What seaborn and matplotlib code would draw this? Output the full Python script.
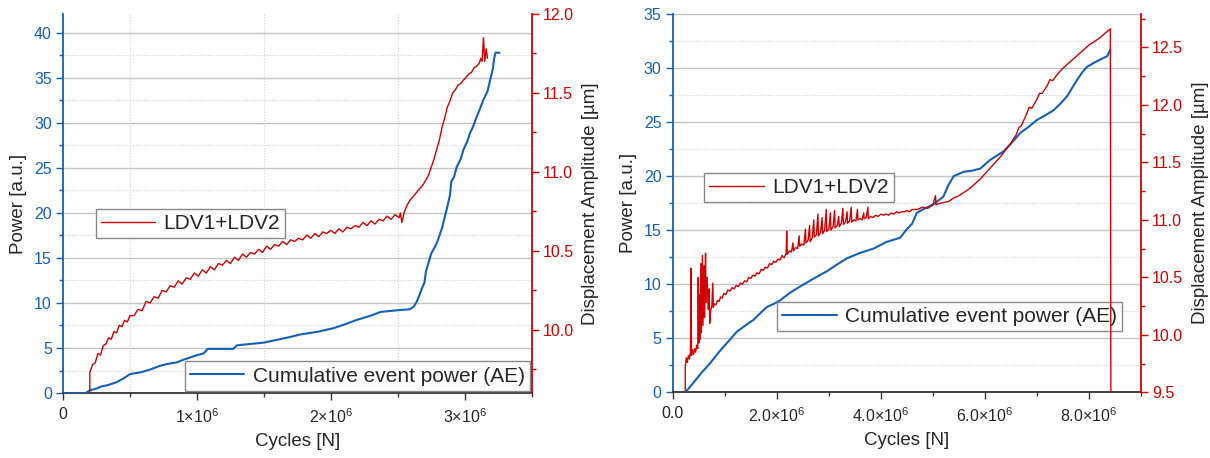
import numpy as np
import pandas as pd
import matplotlib
matplotlib.use("Agg")
import matplotlib.pyplot as plt
import seaborn as sns
from matplotlib.ticker import MultipleLocator

sns.set_theme(style="white")
plt.rcParams['font.family'] = ['Liberation Sans', 'DejaVu Sans']
plt.rcParams['mathtext.fontset'] = 'custom'
plt.rcParams['mathtext.rm'] = 'Liberation Sans'
plt.rcParams['mathtext.it'] = 'Liberation Sans'

BLUE = "#1460b8"
RED = "#d20000"

# ---- left panel (cycles in millions) ----
left_ae_cycles = [0.00, 0.17, 0.20, 0.25, 0.28, 0.34, 0.40, 0.45, 0.50, 0.58, 0.65, 0.72, 0.77, 0.85,
                  0.90, 1.00, 1.05, 1.08, 1.27, 1.30, 1.50, 1.69, 1.77, 1.90, 2.02, 2.10, 2.19, 2.30,
                  2.37, 2.50, 2.59, 2.62, 2.64, 2.66, 2.68, 2.70, 2.71, 2.73, 2.75, 2.78, 2.80, 2.83,
                  2.85, 2.87, 2.89, 2.90, 2.92, 2.94, 2.97, 2.99, 3.02, 3.04, 3.06, 3.09, 3.12, 3.14,
                  3.17, 3.19, 3.21, 3.22, 3.23, 3.26]
left_ae_power = [0.0, 0.0, 0.3, 0.5, 0.7, 0.9, 1.2, 1.6, 2.1, 2.3, 2.6, 3.0, 3.2, 3.4,
                 3.7, 4.2, 4.4, 4.9, 4.9, 5.3, 5.6, 6.2, 6.5, 6.8, 7.2, 7.6, 8.1, 8.6,
                 9.0, 9.2, 9.3, 9.6, 10.1, 10.8, 11.6, 12.3, 13.5, 14.5, 15.5, 16.3, 17.0, 18.3,
                 19.5, 20.7, 22.0, 23.5, 24.0, 25.1, 26.0, 27.0, 28.0, 28.9, 29.5, 30.7, 31.8, 32.6,
                 33.5, 34.8, 36.0, 37.2, 37.8, 37.8]

left_ldv_cycles = [0.20, 0.20, 0.22, 0.24, 0.26, 0.28, 0.30, 0.32, 0.34, 0.36, 0.38, 0.40, 0.42, 0.44,
                   0.46, 0.48, 0.50, 0.53, 0.56, 0.59, 0.62, 0.65, 0.68, 0.71, 0.74, 0.77, 0.80, 0.83,
                   0.86, 0.89, 0.92, 0.95, 0.98, 1.01, 1.04, 1.07, 1.10, 1.13, 1.16, 1.19, 1.22, 1.25,
                   1.28, 1.31, 1.34, 1.37, 1.40, 1.43, 1.46, 1.49, 1.52, 1.55, 1.58, 1.61, 1.64, 1.67,
                   1.70, 1.73, 1.76, 1.79, 1.82, 1.85, 1.88, 1.91, 1.94, 1.97, 2.00, 2.03, 2.06, 2.09,
                   2.12, 2.15, 2.18, 2.21, 2.24, 2.27, 2.30, 2.33, 2.36, 2.39, 2.42, 2.45, 2.48, 2.51,
                   2.52, 2.53, 2.55, 2.57, 2.59, 2.61, 2.63, 2.65, 2.67, 2.69, 2.71, 2.73, 2.75, 2.77,
                   2.79, 2.81, 2.83, 2.85, 2.87, 2.89, 2.91, 2.93, 2.95, 2.97, 2.99, 3.01, 3.03, 3.05,
                   3.07, 3.09, 3.11, 3.12, 3.13, 3.14, 3.15, 3.16, 3.17]
left_ldv_amp = [9.60, 9.73, 9.78, 9.79, 9.85, 9.84, 9.90, 9.91, 9.95, 9.94, 9.99, 9.98, 10.03, 10.02,
                10.06, 10.05, 10.09, 10.09, 10.13, 10.12, 10.18, 10.17, 10.21, 10.20, 10.25, 10.24, 10.28, 10.27,
                10.31, 10.29, 10.33, 10.32, 10.36, 10.34, 10.38, 10.36, 10.40, 10.38, 10.42, 10.41, 10.44, 10.42,
                10.46, 10.44, 10.48, 10.46, 10.49, 10.48, 10.51, 10.49, 10.53, 10.51, 10.54, 10.53, 10.56, 10.54,
                10.57, 10.56, 10.58, 10.57, 10.60, 10.58, 10.61, 10.59, 10.62, 10.61, 10.63, 10.61, 10.64, 10.62,
                10.65, 10.64, 10.66, 10.65, 10.68, 10.66, 10.69, 10.67, 10.70, 10.69, 10.72, 10.70, 10.73, 10.71,
                10.74, 10.68, 10.75, 10.79, 10.82, 10.84, 10.86, 10.88, 10.90, 10.92, 10.95, 10.98, 11.03, 11.08,
                11.14, 11.20, 11.28, 11.34, 11.41, 11.45, 11.50, 11.52, 11.55, 11.56, 11.58, 11.60, 11.62, 11.63,
                11.66, 11.67, 11.69, 11.72, 11.70, 11.85, 11.70, 11.78, 11.72]

# ---- right panel (cycles in millions) ----
right_ae_cycles = [0.24, 0.40, 0.55, 0.72, 0.90, 1.05, 1.23, 1.40, 1.55, 1.70, 1.81, 1.95, 2.06, 2.25,
                   2.45, 2.70, 2.96, 3.15, 3.35, 3.60, 3.86, 4.10, 4.37, 4.50, 4.60, 4.69, 4.80, 5.01,
                   5.20, 5.30, 5.40, 5.59, 5.75, 5.91, 6.10, 6.36, 6.50, 6.68, 6.85, 7.00, 7.15, 7.32,
                   7.45, 7.58, 7.68, 7.77, 7.87, 7.96, 8.10, 8.22, 8.35, 8.41]
right_ae_power = [0.0, 0.9, 1.8, 2.7, 3.8, 4.6, 5.6, 6.2, 6.7, 7.4, 7.9, 8.2, 8.5, 9.2,
                  9.8, 10.5, 11.2, 11.8, 12.4, 12.9, 13.3, 13.9, 14.3, 15.1, 15.6, 16.6, 16.9, 17.4,
                  18.1, 19.2, 20.0, 20.4, 20.5, 20.7, 21.5, 22.3, 23.0, 24.0, 24.6, 25.2, 25.6, 26.1,
                  26.7, 27.4, 28.2, 28.9, 29.6, 30.1, 30.5, 30.8, 31.1, 31.7]

right_ldv_cycles = [0.24, 0.24, 0.26, 0.28, 0.30, 0.32, 0.34, 0.35, 0.36, 0.38, 0.40, 0.42, 0.44, 0.46,
                    0.48, 0.49, 0.50, 0.51, 0.52, 0.54, 0.55, 0.57, 0.58, 0.60, 0.61, 0.63, 0.64, 0.66,
                    0.68, 0.70, 0.71, 0.73, 0.75, 0.77, 0.78, 0.80, 0.83, 0.86, 0.89, 0.92, 0.95, 0.98,
                    1.02, 1.06, 1.10, 1.14, 1.18, 1.22, 1.26, 1.30, 1.34, 1.38, 1.42, 1.46, 1.50, 1.54,
                    1.58, 1.62, 1.66, 1.70, 1.74, 1.78, 1.82, 1.86, 1.90, 1.94, 1.98, 2.02, 2.06, 2.10,
                    2.14, 2.18, 2.19, 2.20, 2.24, 2.28, 2.31, 2.32, 2.36, 2.40, 2.43, 2.44, 2.48, 2.52,
                    2.55, 2.56, 2.60, 2.63, 2.64, 2.68, 2.71, 2.72, 2.76, 2.79, 2.80, 2.84, 2.87, 2.88,
                    2.92, 2.95, 2.96, 3.00, 3.03, 3.04, 3.08, 3.11, 3.12, 3.16, 3.19, 3.20, 3.24, 3.27,
                    3.28, 3.32, 3.35, 3.36, 3.40, 3.43, 3.44, 3.48, 3.52, 3.55, 3.56, 3.60, 3.64, 3.67,
                    3.68, 3.72, 3.75, 3.76, 3.80, 3.85, 3.90, 3.95, 4.00, 4.05, 4.10, 4.15, 4.20, 4.25,
                    4.30, 4.35, 4.40, 4.45, 4.50, 4.55, 4.60, 4.70, 4.80, 4.90, 5.00, 5.05, 5.06, 5.10,
                    5.20, 5.30, 5.40, 5.50, 5.60, 5.70, 5.80, 5.90, 6.00, 6.10, 6.20, 6.30, 6.40, 6.50,
                    6.60, 6.65, 6.70, 6.80, 6.85, 6.90, 7.00, 7.05, 7.10, 7.20, 7.25, 7.30, 7.40, 7.50,
                    7.60, 7.70, 7.80, 7.90, 8.00, 8.10, 8.20, 8.30, 8.41, 8.42]
right_ldv_amp = [9.40, 9.72, 9.80, 9.76, 9.82, 9.79, 9.85, 10.58, 9.82, 9.87, 9.83, 9.88, 9.85, 9.91,
                 9.88, 10.50, 9.93, 10.35, 9.96, 10.62, 10.02, 10.69, 10.08, 10.60, 10.15, 10.71, 10.28, 10.50,
                 10.22, 10.40, 10.10, 10.22, 10.24, 10.45, 10.24, 10.27, 10.26, 10.30, 10.29, 10.33, 10.32, 10.36,
                 10.35, 10.39, 10.38, 10.41, 10.40, 10.43, 10.42, 10.45, 10.44, 10.47, 10.46, 10.50, 10.49, 10.52,
                 10.51, 10.54, 10.53, 10.57, 10.56, 10.59, 10.58, 10.62, 10.61, 10.64, 10.63, 10.66, 10.65, 10.69,
                 10.67, 10.71, 10.90, 10.70, 10.73, 10.72, 10.80, 10.73, 10.76, 10.75, 10.86, 10.77, 10.79, 10.78,
                 10.92, 10.80, 10.82, 10.95, 10.81, 10.84, 11.00, 10.85, 10.87, 11.05, 10.86, 10.89, 11.02, 10.88,
                 10.91, 11.09, 10.90, 10.92, 11.06, 10.91, 10.94, 11.08, 10.93, 10.95, 11.03, 10.94, 10.97, 11.10,
                 10.96, 10.98, 11.07, 10.97, 10.99, 11.11, 10.98, 11.00, 10.99, 11.09, 11.00, 11.01, 11.00, 11.06,
                 11.01, 11.02, 11.11, 11.01, 11.03, 11.02, 11.04, 11.03, 11.05, 11.04, 11.05, 11.04, 11.06, 11.05,
                 11.07, 11.06, 11.07, 11.07, 11.08, 11.07, 11.09, 11.09, 11.11, 11.10, 11.13, 11.21, 11.13, 11.14,
                 11.15, 11.16, 11.19, 11.21, 11.24, 11.27, 11.31, 11.35, 11.40, 11.45, 11.50, 11.55, 11.61, 11.67,
                 11.74, 11.80, 11.82, 11.92, 11.98, 11.97, 12.05, 12.10, 12.10, 12.17, 12.22, 12.21, 12.27, 12.32,
                 12.36, 12.40, 12.44, 12.48, 12.52, 12.55, 12.58, 12.62, 12.66, 9.40]

left_xticks = [0, 1e6, 2e6, 3e6]
left_xticklabels = ["0", r"$1{\times}10^{6}$", r"$2{\times}10^{6}$", r"$3{\times}10^{6}$"]
right_xticks = [0, 2e6, 4e6, 6e6, 8e6]
right_xticklabels = ["0.0", r"$2.0{\times}10^{6}$", r"$4.0{\times}10^{6}$",
                     r"$6.0{\times}10^{6}$", r"$8.0{\times}10^{6}$"]

ae_label = "Cumulative event power (AE)"
ldv_label = "LDV1+LDV2"

fig = plt.figure(figsize=(12.1, 4.58), dpi=100)


def make_panel(rect, ae_c, ae_p, ldv_c, ldv_a, xlim, ylim1, ylim2, xticks, xlabels,
               xminor, y2major, vgrid, leg_ldv, leg_ae):
    ax1 = fig.add_axes(rect)
    ax2 = ax1.twinx()

    ae = pd.DataFrame({"cycles": np.array(ae_c) * 1e6, "power": ae_p})
    ldv = pd.DataFrame({"cycles": np.array(ldv_c) * 1e6, "amp": ldv_a})

    sns.lineplot(data=ae, x="cycles", y="power", ax=ax1, color=BLUE, lw=1.5,
                 estimator=None, sort=False, label=ae_label, zorder=3)
    sns.lineplot(data=ldv, x="cycles", y="amp", ax=ax2, color=RED, lw=1.0,
                 estimator=None, sort=False, label=ldv_label, zorder=3)

    ax1.set_xlim(*xlim)
    ax1.set_ylim(*ylim1)
    ax2.set_ylim(*ylim2)

    ax1.set_xticks(xticks, xlabels)
    ax1.xaxis.set_minor_locator(MultipleLocator(xminor))
    ax1.yaxis.set_major_locator(MultipleLocator(5))
    ax1.yaxis.set_minor_locator(MultipleLocator(2.5))
    ax2.yaxis.set_major_locator(MultipleLocator(y2major))
    ax2.yaxis.set_minor_locator(MultipleLocator(0.25))
    ax2.yaxis.set_major_formatter(matplotlib.ticker.FormatStrFormatter("%.1f"))

    ax1.grid(which="major", axis="y", color="#c4c4c4", lw=1.0, ls="-")
    ax1.grid(which="minor", axis="y", color="#d2d2d2", lw=0.8, ls=(0, (1, 1.5)))
    if vgrid:
        ax1.grid(which="minor", axis="x", color="#d2d2d2", lw=0.8, ls=(0, (1, 1.5)))
    ax1.set_axisbelow(True)

    ax1.tick_params(axis="x", which="major", direction="out", length=5, width=1,
                    color="#333333", labelsize=11.5, pad=5, bottom=True)
    ax1.tick_params(axis="x", which="minor", direction="out", length=3, width=1,
                    color="#333333", bottom=True)
    ax1.tick_params(axis="y", which="major", direction="out", length=5, width=1,
                    color=BLUE, labelcolor=BLUE, labelsize=11.5, pad=3, left=True)
    ax1.tick_params(axis="y", which="minor", direction="out", length=3, width=1,
                    color=BLUE, left=True)
    ax2.tick_params(axis="y", which="major", direction="out", length=5, width=1,
                    color=RED, labelcolor=RED, labelsize=11.5, pad=3, right=True)
    ax2.tick_params(axis="y", which="minor", direction="out", length=3, width=1,
                    color=RED, right=True)

    for s in ["top", "right"]:
        ax1.spines[s].set_visible(False)
    for s in ["top", "left", "bottom"]:
        ax2.spines[s].set_visible(False)
    ax1.spines["left"].set_color(BLUE)
    ax1.spines["left"].set_linewidth(1.3)
    ax1.spines["bottom"].set_color("#333333")
    ax1.spines["bottom"].set_linewidth(1.3)
    ax2.spines["right"].set_color(RED)
    ax2.spines["right"].set_linewidth(1.3)

    ax1.set_xlabel("Cycles [N]", fontsize=13.5, labelpad=5)
    ax1.set_ylabel("Power [a.u.]", fontsize=13.5, labelpad=5)
    ax2.set_ylabel("Displacement Amplitude [µm]", fontsize=13.5, labelpad=6)

    leg_kw = dict(fontsize=15, frameon=True, fancybox=False, framealpha=1,
                  edgecolor="#888888", handlelength=2.6, handletextpad=0.4,
                  borderpad=0.25, borderaxespad=0)
    l1 = ax1.legend(loc=leg_ae[0], bbox_to_anchor=leg_ae[1], **leg_kw)
    l2 = ax2.legend(loc=leg_ldv[0], bbox_to_anchor=leg_ldv[1], **leg_kw)
    for lg in (l1, l2):
        lg.get_frame().set_linewidth(1.0)
    return ax1, ax2


make_panel([0.0521, 0.1419, 0.3873, 0.8275],
           left_ae_cycles, left_ae_power, left_ldv_cycles, left_ldv_amp,
           (0, 3.5e6), (0, 42.1), (9.6, 12.0), left_xticks, left_xticklabels,
           0.5e6, 0.5, True,
           ("upper left", (0.070, 0.486)), ("lower right", (0.996, 0.006)))

make_panel([0.5560, 0.1434, 0.3870, 0.8260],
           right_ae_cycles, right_ae_power, right_ldv_cycles, right_ldv_amp,
           (0, 9.0e6), (0, 35), (9.5, 12.79), right_xticks, right_xticklabels,
           1e6, 0.5, False,
           ("upper left", (0.067, 0.580)), ("upper left", (0.223, 0.239)))

fig.savefig("out.png", dpi=100)
